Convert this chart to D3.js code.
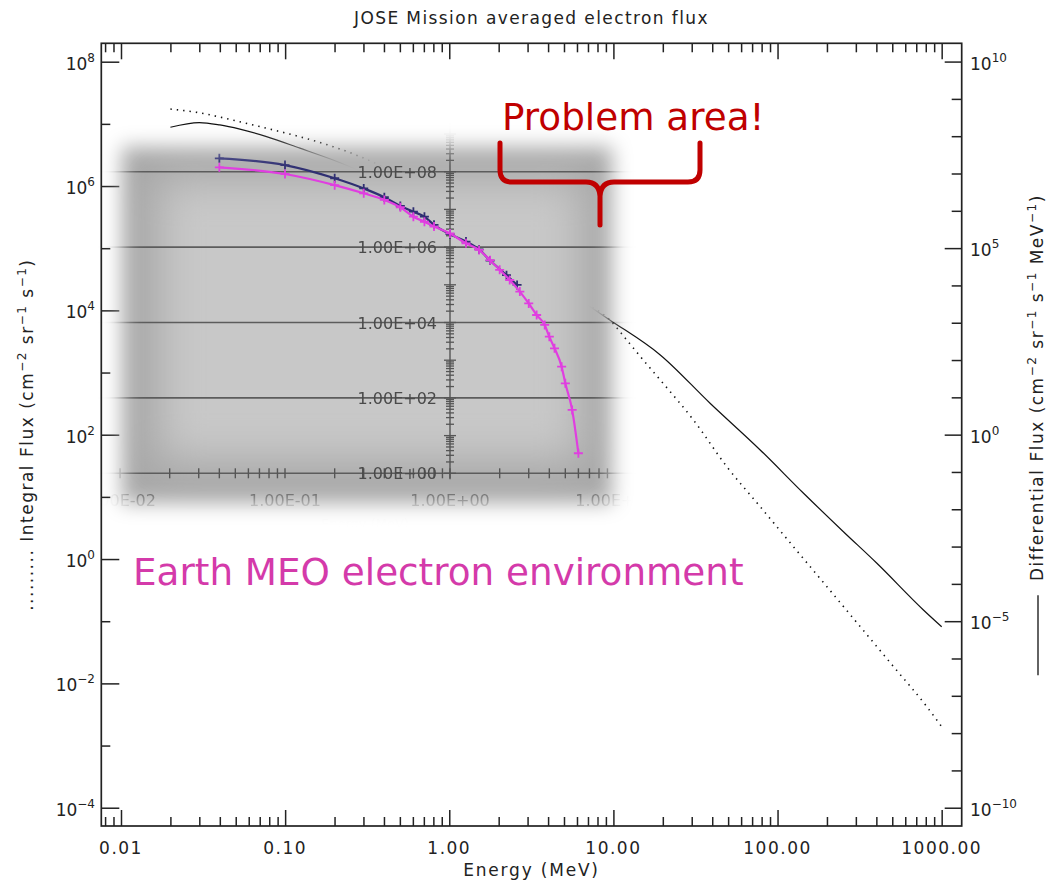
<!DOCTYPE html>
<html>
<head>
<meta charset="utf-8">
<script src="https://cdn.jsdelivr.net/npm/d3@7"></script>
<style>
  body { margin: 0; background: #fff; }
  svg text { font-family: "DejaVu Sans", sans-serif; }
</style>
</head>
<body>
<svg id="chart" width="1048" height="885"></svg>
<script>
// main plot: integral flux (dotted, left axis) and differential flux (solid, right axis)
const energyInt = [0.02, 0.03, 0.048, 0.077, 0.123, 0.196, 0.286, 6.27, 9.5, 12.1, 15.2, 19.3, 30.7, 49.1, 78.4, 125, 200, 319, 509, 812, 1000]
const fluxInt = [1.73e7, 1.51e7, 1.15e7, 8.5e6, 6.2e6, 4.3e6, 2.97e6, 1.47e4, 7.0e3, 3.3e3, 1.59e3, 759, 173, 30.6, 6.95, 1.58, 0.359, 0.0817, 0.0186, 0.00422, 0.00201]

const energyDiff = [0.02, 0.03, 0.04, 0.053, 0.077, 0.123, 0.196, 6.27, 9.5, 19.3, 38.8, 78.4, 144, 252, 403, 774, 1000]
const fluxDiff = [1.74e8, 2.32e8, 2.0e8, 1.54e8, 9.75e7, 4.77e7, 2.3e7, 4.07e3, 1.19e3, 137, 6.95, 0.389, 0.0269, 2.5e-3, 3.56e-4, 2.0e-5, 7.1e-6]

// inset: Earth MEO electron environment
const energyNavy = [0.04, 0.1, 0.2, 0.3, 0.4, 0.5, 0.6, 0.7, 0.8, 1.0, 1.25, 1.5, 1.75, 2.2, 2.55]
const fluxNavy = [2.27e8, 1.5e8, 6.7e7, 3.6e7, 2.1e7, 1.23e7, 8.7e6, 6.4e6, 3.9e6, 2.2e6, 1.4e6, 8.7e5, 4.4e5, 1.8e5, 9.9e4]

const energyMag = [0.04, 0.1, 0.2, 0.3, 0.4, 0.5, 0.6, 0.7, 0.8, 1.0, 1.25, 1.5, 1.75, 2.0, 2.3, 2.65, 3.0, 3.35, 3.75, 4.0, 4.3, 4.75, 5.0, 5.5, 6.0]
const fluxMag = [1.31e8, 8.7e7, 4.4e7, 2.67e7, 1.78e7, 1.14e7, 6.4e6, 4.7e6, 3.5e6, 2.3e6, 1.26e6, 8.4e5, 4.5e5, 2.5e5, 1.34e5, 6.6e4, 3.2e4, 1.58e4, 8.6e3, 4.2e3, 2.07e3, 673, 244, 48, 3.4]

// tick labels
const xTickValues = [0.01, 0.1, 1, 10, 100, 1000]
const xTickLabels = ["0.01", "0.10", "1.00", "10.00", "100.00", "1000.00"]
const leftExps = [-4, -2, 0, 2, 4, 6, 8]
const rightExps = [-10, -5, 0, 5, 10]
const insetYValues = [1, 1e2, 1e4, 1e6, 1e8, 1e10]
const insetYLabels = ["1.00E+00", "1.00E+02", "1.00E+04", "1.00E+06", "1.00E+08", "1.00E+10"]
const insetXValues = [0.01, 0.1, 1, 10]
const insetXLabels = ["1.00E-02", "1.00E-01", "1.00E+00", "1.00E+01"]

const frame = { left: 101.3, right: 961.7, top: 43.3, bottom: 826 }
const ink = "#222"

const svg = d3.select("#chart")

const x = d3.scaleLog().domain([Math.pow(10, -2.12), Math.pow(10, 3.122)]).range([frame.left, frame.right])
const yL = d3.scaleLog().domain([Math.pow(10, -4.294), Math.pow(10, 8.296)]).range([frame.bottom, frame.top])
const yR = d3.scaleLog().domain([Math.pow(10, -10.49), Math.pow(10, 10.49)]).range([frame.bottom, frame.top])

// superscript helper
function rich(sel, parts, supSize, shift) {
  let pend = 0
  parts.forEach(([t, sup]) => {
    const ts = sel.append("tspan").text(t)
    if (sup) { ts.attr("dy", -shift).attr("font-size", supSize); pend = shift }
    else if (pend) { ts.attr("dy", pend); pend = 0 }
  })
}

const minus = n => (n < 0 ? "\u2212" + (-n) : "" + n)

// ---- main lines (drawn under the inset) ----
const lineL = d3.line().curve(d3.curveMonotoneX).x(d => x(d[0])).y(d => yL(d[1]))
const lineR = d3.line().curve(d3.curveMonotoneX).x(d => x(d[0])).y(d => yR(d[1]))

svg.append("path")
  .datum(d3.zip(energyInt, fluxInt))
  .attr("d", lineL)
  .attr("fill", "none")
  .attr("stroke", "#111")
  .attr("stroke-width", 1.6)
  .attr("stroke-dasharray", "1.4 5")

svg.append("path")
  .datum(d3.zip(energyDiff, fluxDiff))
  .attr("d", lineR)
  .attr("fill", "none")
  .attr("stroke", "#111")
  .attr("stroke-width", 1.2)

// ---- axes / frame ----
const xMinor = []
for (let n = -3; n <= 3; n++) for (let k = 2; k <= 9; k++) {
  const v = +(k * Math.pow(10, n)).toPrecision(3)
  if (x(v) >= frame.left && x(v) <= frame.right) xMinor.push(v)
}
const yLMinor = [-3, -1, 1, 3, 5, 7].map(e => Math.pow(10, e))
const yRMinor = d3.range(-10, 11).filter(e => e % 5 !== 0).map(e => Math.pow(10, e))

function tidy(g) {
  g.select(".domain").remove()
  g.selectAll(".tick line").attr("stroke", ink).attr("stroke-width", 1.5)
}

svg.append("g").attr("transform", `translate(0,${frame.bottom})`)
  .call(d3.axisBottom(x).tickValues(xTickValues).tickSize(-16).tickFormat("")).call(tidy)
svg.append("g").attr("transform", `translate(0,${frame.bottom})`)
  .call(d3.axisBottom(x).tickValues(xMinor).tickSize(-9).tickFormat("")).call(tidy)
svg.append("g").attr("transform", `translate(0,${frame.top})`)
  .call(d3.axisTop(x).tickValues(xTickValues).tickSize(-16).tickFormat("")).call(tidy)
svg.append("g").attr("transform", `translate(0,${frame.top})`)
  .call(d3.axisTop(x).tickValues(xMinor).tickSize(-9).tickFormat("")).call(tidy)

svg.append("g").attr("transform", `translate(${frame.left},0)`)
  .call(d3.axisLeft(yL).tickValues(leftExps.map(e => Math.pow(10, e))).tickSize(-18).tickFormat("")).call(tidy)
svg.append("g").attr("transform", `translate(${frame.left},0)`)
  .call(d3.axisLeft(yL).tickValues(yLMinor).tickSize(-9).tickFormat("")).call(tidy)
svg.append("g").attr("transform", `translate(${frame.right},0)`)
  .call(d3.axisRight(yR).tickValues(rightExps.map(e => Math.pow(10, e))).tickSize(-17).tickFormat("")).call(tidy)
svg.append("g").attr("transform", `translate(${frame.right},0)`)
  .call(d3.axisRight(yR).tickValues(yRMinor).tickSize(-10).tickFormat("")).call(tidy)

svg.append("rect")
  .attr("x", frame.left).attr("y", frame.top)
  .attr("width", frame.right - frame.left).attr("height", frame.bottom - frame.top)
  .attr("fill", "none").attr("stroke", ink).attr("stroke-width", 1.7)

// tick labels
const lab = svg.append("g").attr("fill", ink).attr("font-size", 17)
xTickValues.forEach((v, i) => {
  lab.append("text").attr("x", x(v)).attr("y", 854).attr("text-anchor", "middle")
    .attr("letter-spacing", 1.5).text(xTickLabels[i])
})
leftExps.forEach(e => {
  const t = lab.append("text").attr("x", 95).attr("y", yL(Math.pow(10, e)) + 8).attr("text-anchor", "end")
  rich(t, [["10"], [minus(e), true]], 12, 8)
})
rightExps.forEach(e => {
  const t = lab.append("text").attr("x", 970).attr("y", yR(Math.pow(10, e)) + 8)
  rich(t, [["10"], [minus(e), true]], 12, 8)
})

// titles
svg.append("text").attr("x", (frame.left + frame.right) / 2).attr("y", 24)
  .attr("text-anchor", "middle").attr("font-size", 17).attr("letter-spacing", 1.4).attr("fill", ink)
  .text("JOSE Mission averaged electron flux")
svg.append("text").attr("x", (frame.left + frame.right) / 2).attr("y", 876)
  .attr("text-anchor", "middle").attr("font-size", 17).attr("letter-spacing", 1.8).attr("fill", ink)
  .text("Energy (MeV)")

const midY = (frame.top + frame.bottom) / 2
const lt = svg.append("text")
  .attr("transform", `translate(33,${midY}) rotate(-90)`)
  .attr("text-anchor", "middle").attr("font-size", 17).attr("letter-spacing", 1.5).attr("fill", ink)
rich(lt, [[".........  Integral Flux (cm"], ["\u22122", true], [" sr"], ["\u22121", true], [" s"], ["\u22121", true], [")"]], 12, 7)

const rg = svg.append("g").attr("transform", `translate(1043,${midY}) rotate(-90)`)
const rt = rg.append("text").attr("font-size", 17).attr("letter-spacing", 1.5).attr("fill", ink)
rich(rt, [["Differential Flux (cm"], ["\u22122", true], [" sr"], ["\u22121", true], [" s"], ["\u22121", true], [" MeV"], ["\u22121", true], [")"]], 12, 7)
const rLen = rt.node().getComputedTextLength()
const total = 80 + 14 + rLen
rt.attr("x", -total / 2 + 94)
rg.append("line").attr("x1", -total / 2).attr("x2", -total / 2 + 80).attr("y1", -5).attr("y2", -5)
  .attr("stroke", ink).attr("stroke-width", 1.4)

// ---- inset picture ----
const xi = d3.scaleLog().domain([0.01, 10]).range([120, 615])
const yi = d3.scaleLog().domain([1, 1e10]).range([473.3, 96.3])

const defs = svg.append("defs")
defs.append("filter").attr("id", "soft").attr("x", "-30%").attr("y", "-30%").attr("width", "160%").attr("height", "160%")
  .append("feGaussianBlur").attr("stdDeviation", 10)
defs.append("filter").attr("id", "softer").attr("x", "-30%").attr("y", "-30%").attr("width", "160%").attr("height", "160%")
  .append("feGaussianBlur").attr("stdDeviation", 20)
defs.append("mask").attr("id", "insetMask").attr("maskUnits", "userSpaceOnUse")
  .attr("x", 0).attr("y", 0).attr("width", 1048).attr("height", 885)
  .append("rect").attr("x", 122).attr("y", 147).attr("width", 490).attr("height", 356)
  .attr("fill", "#fff").attr("filter", "url(#soft)")

const inset = svg.append("g").attr("mask", "url(#insetMask)")
inset.append("rect").attr("x", 90).attr("y", 80).attr("width", 560).attr("height", 470).attr("fill", "#a8a8a8")
inset.append("rect").attr("x", 160).attr("y", 180).attr("width", 420).attr("height", 280)
  .attr("fill", "#c8c8c8").attr("filter", "url(#softer)")

// gridlines
inset.selectAll(".grid").data(insetYValues).join("line")
  .attr("x1", 95).attr("x2", 640).attr("y1", d => yi(d)).attr("y2", d => yi(d))
  .attr("stroke", "#5c5c5c").attr("stroke-width", 1.6)

// inset axis ticks
const xiMinor = [], yiMinor = []
for (let n = -2; n <= 0; n++) for (let k = 1; k <= 9; k++) xiMinor.push(k * Math.pow(10, n))
for (let n = 0; n < 10; n++) for (let k = 1; k <= 9; k++) yiMinor.push(k * Math.pow(10, n))
inset.selectAll(".xt").data(xiMinor).join("line")
  .attr("x1", d => xi(d)).attr("x2", d => xi(d))
  .attr("y1", yi(1) - 5).attr("y2", yi(1) + 5)
  .attr("stroke", "#555").attr("stroke-width", 1.4)
inset.append("line").attr("x1", xi(1)).attr("x2", xi(1)).attr("y1", yi(1e10)).attr("y2", yi(1) + 6)
  .attr("stroke", "#555").attr("stroke-width", 1.4)
inset.selectAll(".yt").data(yiMinor).join("line")
  .attr("x1", d => xi(1) - (Math.log10(d) % 1 === 0 ? 6 : 4)).attr("x2", d => xi(1) + (Math.log10(d) % 1 === 0 ? 6 : 4))
  .attr("y1", d => yi(d)).attr("y2", d => yi(d))
  .attr("stroke", "#555").attr("stroke-width", 1.3)

// inset labels
const il = inset.append("g").attr("font-family", "Liberation Sans, Arial, sans-serif")
insetYValues.forEach((v, i) => {
  il.append("text").attr("x", 437).attr("y", yi(v) + 6).attr("text-anchor", "end")
    .attr("font-size", 16).attr("fill", "#4a4a4a").text(insetYLabels[i])
})
insetXValues.forEach((v, i) => {
  il.append("text").attr("x", xi(v)).attr("y", 506).attr("text-anchor", "middle")
    .attr("font-size", 16).attr("fill", "#555").text(insetXLabels[i])
})
il.append("text").attr("x", 365).attr("y", 528).attr("text-anchor", "middle")
  .attr("font-size", 13).attr("fill", "#777").text("Energy (MeV)")

// inset curves with + markers
const lineI = d3.line().curve(d3.curveMonotoneX).x(d => xi(d[0])).y(d => yi(d[1]))
function series(es, fs, color) {
  const pts = d3.zip(es, fs)
  inset.append("path").datum(pts).attr("d", lineI)
    .attr("fill", "none").attr("stroke", color).attr("stroke-width", 2.2)
  inset.append("g").selectAll("path").data(pts).join("path")
    .attr("d", d => `M${xi(d[0]) - 4.5},${yi(d[1])}h9M${xi(d[0])},${yi(d[1]) - 4.5}v9`)
    .attr("stroke", color).attr("stroke-width", 1.8)
}
series(energyNavy, fluxNavy, "#2f2f72")
series(energyMag, fluxMag, "#e03ee0")

// ---- annotations ----
svg.append("text").attr("x", 502).attr("y", 130).attr("font-size", 37.3).attr("fill", "#c00000")
  .text("Problem area!")
svg.append("path")
  .attr("d", "M500,143 V170 Q500,182 512,182 H586 Q599,182 600,196 V225 M600,196 Q601,182 614,182 H688 Q700,182 700,170 V143")
  .attr("fill", "none").attr("stroke", "#c00000").attr("stroke-width", 5).attr("stroke-linecap", "round")
svg.append("text").attr("x", 133).attr("y", 585).attr("font-size", 37.3).attr("fill", "#d43aaa")
  .text("Earth MEO electron environment")
</script>
</body>
</html>
